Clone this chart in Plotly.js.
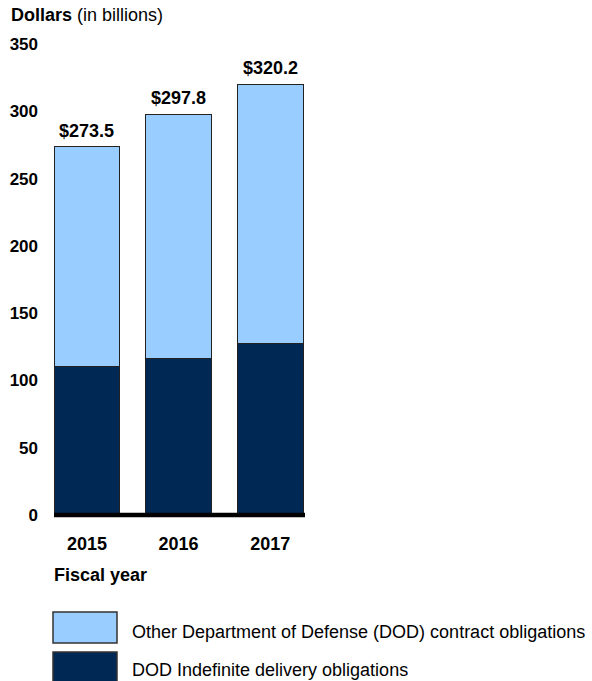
<!DOCTYPE html>
<html>
<head>
<meta charset="utf-8">
<script src="https://cdn.plot.ly/plotly-3.0.1.min.js"></script>
<style>html,body{margin:0;padding:0;background:#fff;}#chart{width:592px;height:681px;}</style>
</head>
<body>
<div id="chart"></div>
<script>
// ---- data ----
const years = ['2015', '2016', '2017'];
const dodIndefinite = [110.4, 116.6, 127.3];
const otherDod = [163.1, 181.2, 192.9];
const totals = [273.5, 297.8, 320.2];
const totalLabels = ['$273.5', '$297.8', '$320.2'];
const seriesNames = ['Other Department of Defense (DOD) contract obligations', 'DOD Indefinite delivery obligations'];
const yTickVals = [0, 50, 100, 150, 200, 250, 300, 350];
const yTitleBold = 'Dollars';
const yTitleRest = '(in billions)';
const xTitle = 'Fiscal year';

// ---- styles ----
const FONT = 'Liberation Sans, Arial, sans-serif';
const LIGHT = '#99ccff';
const DARK = '#002855';
const W = 592, H = 681;
const M = {l: 54, r: 287, t: 44, b: 166};
const plotW = W - M.l - M.r, plotH = H - M.t - M.b;
const px2x = p => (p - M.l) / plotW;
const py2y = p => (H - M.b - p) / plotH;

const traces = [
  {type: 'bar', x: years, y: dodIndefinite, name: seriesNames[1],
   marker: {color: DARK, line: {color: '#222', width: 1}}, hoverinfo: 'skip'},
  {type: 'bar', x: years, y: otherDod, name: seriesNames[0],
   marker: {color: LIGHT, line: {color: '#222', width: 1}}, hoverinfo: 'skip'}
];

const annotations = [];
years.forEach((yr, i) => {
  annotations.push({xref: 'x', yref: 'y', x: i, y: totals[i], text: '<b>' + totalLabels[i] + '</b>',
    showarrow: false, yanchor: 'bottom', yshift: 4, font: {family: FONT, size: 18, color: '#000'}});
});
annotations.push({xref: 'paper', yref: 'paper', x: px2x(9), y: py2y(15), xanchor: 'left', yanchor: 'middle',
  text: '<b>' + yTitleBold + '</b> ' + yTitleRest, showarrow: false, font: {family: FONT, size: 18, color: '#000'}});
annotations.push({xref: 'paper', yref: 'paper', x: px2x(52), y: py2y(575), xanchor: 'left', yanchor: 'middle',
  text: '<b>' + xTitle + '</b>', showarrow: false, font: {family: FONT, size: 18, color: '#000'}});

const legendRows = [
  {name: seriesNames[0], color: LIGHT, top: 612, bottom: 643, textY: 631.5},
  {name: seriesNames[1], color: DARK, top: 652, bottom: 690, textY: 670}
];
const shapes = [
  {type: 'line', xref: 'paper', yref: 'paper', x0: 0, x1: 1, y0: 0, y1: 0, line: {color: '#000', width: 4.5}, layer: 'above'}
];
legendRows.forEach(r => {
  shapes.push({type: 'rect', xref: 'paper', yref: 'paper', x0: px2x(53), x1: px2x(117), y0: py2y(r.bottom), y1: py2y(r.top),
    fillcolor: r.color, line: {color: '#333', width: 1.5}});
  annotations.push({xref: 'paper', yref: 'paper', x: px2x(130), y: py2y(r.textY), xanchor: 'left', yanchor: 'middle',
    text: r.name, showarrow: false, font: {family: FONT, size: 18, color: '#000'}});
});

const layout = {
  width: W, height: H, margin: M, barmode: 'stack', bargap: 0.28, showlegend: false,
  paper_bgcolor: '#fff', plot_bgcolor: '#fff',
  xaxis: {type: 'category', range: [-0.36, 2.38], showgrid: false, zeroline: false, showline: false,
    ticks: '', ticklabelstandoff: 16, tickfont: {family: FONT, size: 18, color: '#000', weight: 'bold'}, fixedrange: true},
  yaxis: {range: [0, 350], tickvals: yTickVals, showgrid: false, zeroline: false, showline: false,
    ticks: '', ticklabelstandoff: 15, tickfont: {family: FONT, size: 17, color: '#000', weight: 'bold'}, fixedrange: true},
  annotations: annotations, shapes: shapes
};

Plotly.newPlot('chart', traces, layout, {staticPlot: true});
</script>
</body>
</html>
